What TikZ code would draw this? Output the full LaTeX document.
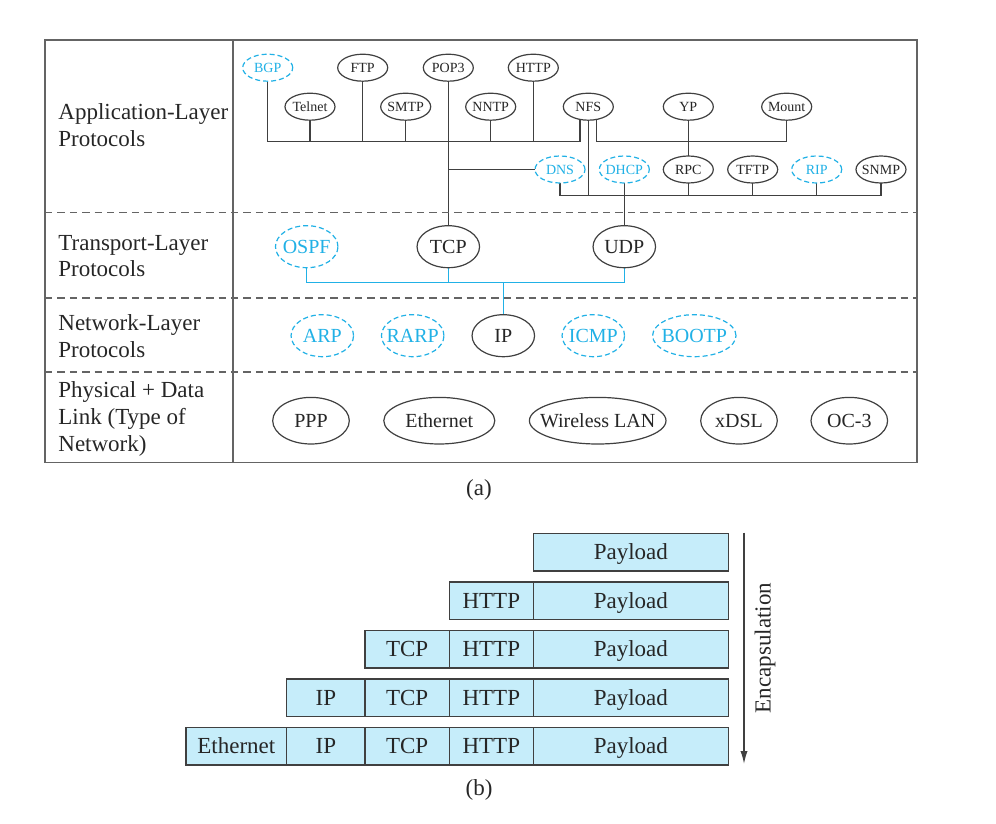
\documentclass[tikz,border=0pt]{standalone}
\usepackage{fontspec}
\setmainfont{Liberation Serif}
\usepackage{tikz}
\usetikzlibrary{positioning}
\usetikzlibrary{shapes.geometric,arrows.meta,backgrounds}
\definecolor{protoCyan}{RGB}{33,177,230}
\definecolor{lineGray}{RGB}{64,64,64}
\definecolor{frameGray}{RGB}{100,100,100}
\definecolor{cellFill}{RGB}{198,237,250}
\tikzset{
    proto/.style={ellipse, draw=lineGray, line width=0.6pt, fill=white, text=black!85, inner ysep=0pt, outer sep=0pt},
    smallProto/.style={proto, font=\fontsize{7}{8}\selectfont, inner xsep=-2pt, minimum width=25pt, minimum height=13.5pt},
    midProto/.style={proto, font=\fontsize{10}{12}\selectfont, inner xsep=-3pt, minimum width=31.25pt, minimum height=21pt},
    physProto/.style={proto, font=\fontsize{10}{12}\selectfont, inner xsep=-6pt, minimum width=38.3pt, minimum height=23.3pt},
    optional/.style={draw=protoCyan, text=protoCyan, dash pattern=on 2.5pt off 1.5pt}
}
\tikzset{
    link/.style={draw=lineGray, line width=0.6pt},
    cLink/.style={draw=protoCyan, line width=0.6pt},
    frameLine/.style={draw=frameGray, line width=0.8pt},
    sepLine/.style={draw=frameGray, line width=0.7pt, dash pattern=on 3.7pt off 2.5pt},
    layerLabel/.style={anchor=west, align=left, inner sep=0pt, text=black!85, font=\fontsize{11.5}{13.4}\selectfont},
    capLabel/.style={inner sep=0pt, text=black!85, font=\fontsize{11.5}{13.4}\selectfont},
    cell/.style={rectangle, draw=lineGray, fill=cellFill, line width=0.75pt, inner sep=0pt, outer sep=0pt, minimum height=18.75pt, text height=7.6pt, text depth=0pt, text=black!85, font=\fontsize{11.5}{13.4}\selectfont},
    encArrow/.style={draw=lineGray, line width=0.7pt, -{Latex[length=6.5pt,width=3.6pt]}}
}
\begin{document}
\begin{tikzpicture}[x=0.5pt,y=-0.5pt]
    \useasboundingbox (0,0) rectangle (996,824);
    % (a) layer table
    \draw[frameLine] (45,40) rectangle (917,462.5);
    \draw[frameLine] (233,40) -- (233,462.5);
    \foreach \y in {212.7,298,372}
        \draw[sepLine] (45,\y) -- (917,\y);
    \node[layerLabel] (appLbl) at (58,125) {Application-Layer\\Protocols};
    \node[layerLabel] (transLbl) at (58,256) {Transport-Layer\\Protocols};
    \node[layerLabel] (netLbl) at (58,336) {Network-Layer\\Protocols};
    \node[layerLabel] (physLbl) at (58,419) {Physical + Data\\Link (Type of\\Network)};
    % application layer
    \node[smallProto,optional] (bgp) at (267.7,67.7) {BGP};
    \node[smallProto] (telnet) at (310,106.7) {Telnet};
    \node[smallProto] (ftp) at (362.7,67.7) {FTP};
    \node[smallProto] (smtp) at (405.7,106.7) {SMTP};
    \node[smallProto] (pop3) at (448.3,67.7) {POP3};
    \node[smallProto] (nntp) at (490.7,106.7) {NNTP};
    \node[smallProto] (http) at (533.3,67.7) {HTTP};
    \node[smallProto] (nfs) at (588.3,106.7) {NFS};
    \node[smallProto] (yp) at (688.3,106.7) {YP};
    \node[smallProto] (mount) at (786.7,106.7) {Mount};
    \node[smallProto,optional] (dns) at (560,169.5) {DNS};
    \node[smallProto,optional] (dhcp) at (624.3,169.5) {DHCP};
    \node[smallProto] (rpc) at (688.3,169.5) {RPC};
    \node[smallProto] (tftp) at (752.7,169.5) {TFTP};
    \node[smallProto,optional] (rip) at (816.7,169.5) {RIP};
    \node[smallProto] (snmp) at (881,169.5) {SNMP};
    % transport + network layer
    \node[midProto,optional] (ospf) at (306.7,246.7) {OSPF};
    \node[midProto] (tcp) at (448.3,246.7) {TCP};
    \node[midProto] (udp) at (624.3,246.7) {UDP};
    \node[midProto,optional] (arp) at (322.3,335.7) {ARP};
    \node[midProto,optional] (rarp) at (412.7,335.7) {RARP};
    \node[midProto] (ip) at (503.3,335.7) {IP};
    \node[midProto,optional] (icmp) at (593.3,335.7) {ICMP};
    \node[midProto,optional,minimum width=41.7pt] (bootp) at (694.3,335.7) {BOOTP};
    % physical + data link
    \node[physProto] (ppp) at (311,420.7) {PPP};
    \node[physProto,minimum width=55.5pt] (eth) at (439.3,420.7) {Ethernet};
    \node[physProto,minimum width=68.3pt] (wlan) at (597.7,420.7) {Wireless LAN};
    \node[physProto] (xdsl) at (739,420.7) {xDSL};
    \node[physProto] (oc3) at (849.3,420.7) {OC-3};
    % buses
    \coordinate (appBus) at (580,141.7);
    \coordinate (lowBus) at (560,195.7);
    \coordinate (ipBus) at (503.3,282.7);
    \begin{scope}[on background layer]
        \draw[link] (bgp.south) |- (appBus) -- ([xshift=-4.15pt]nfs.center);
        \foreach \n in {telnet,ftp,smtp,nntp,http}
            \draw[link] (\n.south) -- (\n |- appBus);
        \draw[link] ([xshift=4.15pt]nfs.center) |- (mount |- appBus) -- (mount.south);
        \draw[link] (pop3) -- (tcp);
        \draw[link] (pop3 |- dns) -- (dns);
        \draw[link] (yp) -- (rpc);
        \draw[link] (dns.south) |- (snmp |- lowBus) -- (snmp.south);
        \draw[link] (nfs.center) -- (nfs |- lowBus);
        \foreach \n in {rpc,tftp,rip}
            \draw[link] (\n.south) -- (\n |- lowBus);
        \draw[link] (dhcp) -- (udp);
        \draw[cLink] (ospf.south) |- (udp |- ipBus) -- (udp.south);
        \draw[cLink] (tcp.south) -- (tcp |- ipBus);
        \draw[cLink] (ip.north) -- (ip |- ipBus);
    \end{scope}
    \node[capLabel] (capA) at (479,490) {(a)};
    % (b) encapsulation
    \foreach \row in {1,...,5}{
        \foreach \col/\cx/\cw/\lbl in {1/236.35/50.35pt/Ethernet, 2/325.85/39.15pt/IP, 3/407.15/42.15pt/TCP, 4/491.3/42pt/HTTP, 5/630.8/97.5pt/Payload}{
            \ifnum\col>\numexpr5-\row\relax
                \node[cell, minimum width=\cw] (cell\row\col) at (\cx,503.5+48.5*\row) {\lbl};
            \fi
        }
    }
    \coordinate (encTop) at (744,532.7);
    \coordinate (encBot) at (744,764);
    \draw[encArrow] (encTop) -- (encBot);
    \node[capLabel, rotate=90] (encLbl) at (765,648) {Encapsulation};
    \node[capLabel] (capB) at (479,790) {(b)};
\end{tikzpicture}
\end{document}
